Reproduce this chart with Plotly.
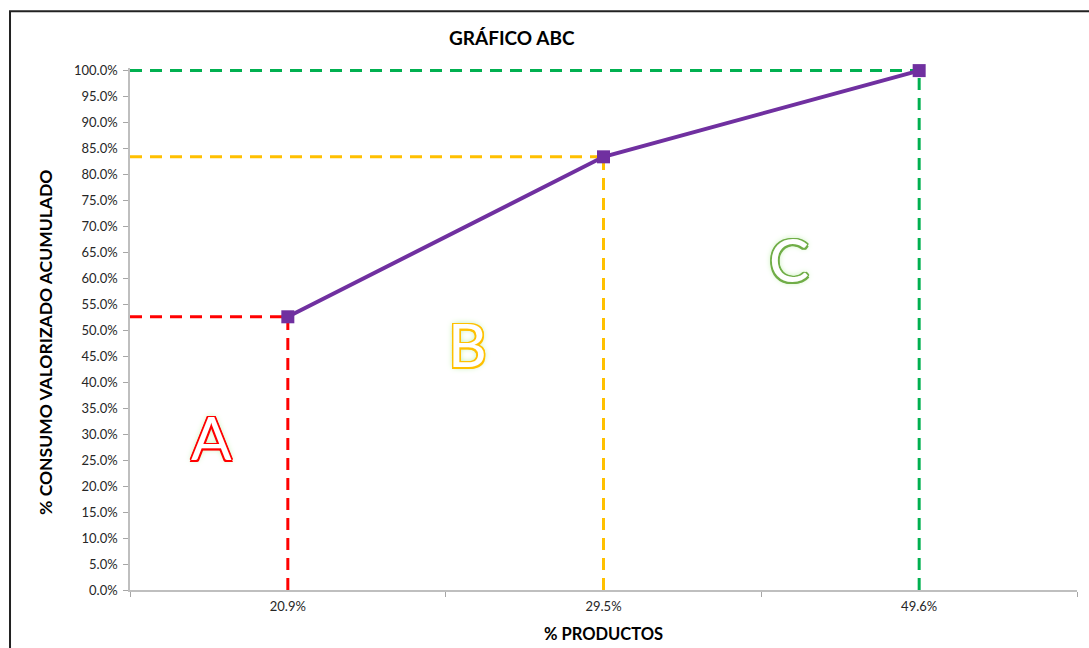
import plotly.graph_objects as go

# Cumulative ABC curve
categories = ["20.9%", "29.5%", "49.6%"]
cum_value = [0.526, 0.834, 1.0]
zone_colors = ["#FF0000", "#FFC000", "#00B050"]

# Zone letters and their placement (category index, y value)
zone_letters = ["A", "B", "C"]
letter_x = [-0.243, 0.568, 1.588]
letter_y = [0.295, 0.474, 0.638]
letter_colors = ["#FF0000", "#FFC000", "#70AD47"]

FONT = "Lato, 'Open Sans', sans-serif"
AXIS_GREY = "#BFBFBF"
Y_TOP = 1.005  # small headroom so the 100% guide is not clipped

fig = go.Figure()

fig.add_trace(go.Scatter(
    x=categories,
    y=cum_value,
    mode="lines+markers",
    line=dict(color="#7030A0", width=4),
    marker=dict(symbol="square", size=13, color="#7030A0"),
    cliponaxis=False,
    showlegend=False,
    hoverinfo="skip",
))

shapes = []
for i, (v, c) in enumerate(zip(cum_value, zone_colors)):
    dash = dict(color=c, width=3, dash="12px,8px")
    # horizontal guide from the value axis to the point
    shapes.append(dict(type="line", xref="x", yref="y", x0=-0.5, x1=i,
                       y0=v, y1=v, line=dash, layer="below"))
    # vertical guide from the point down to the category axis
    shapes.append(dict(type="line", xref="x", yref="y", x0=i, x1=i,
                       y0=0, y1=v, line=dash, layer="below"))

# outer chart frame
shapes.append(dict(type="rect", xref="paper", yref="paper",
                   x0=-0.1267, x1=1.2, y0=-0.3, y1=1.1085,
                   line=dict(color="#222222", width=2), layer="below"))

annotations = []
for t, x, y, c in zip(zone_letters, letter_x, letter_y, letter_colors):
    shadow = (f"-1.5px -1.5px 0 {c}, 1.5px -1.5px 0 {c}, -1.5px 1.5px 0 {c}, "
              f"1.5px 1.5px 0 {c}, 0 -1.5px 0 {c}, 0 1.5px 0 {c}, "
              f"-1.5px 0 0 {c}, 1.5px 0 0 {c}, 0 0 6px #A8E890")
    annotations.append(dict(
        x=x, y=y, xref="x", yref="y", text=t, showarrow=False,
        xanchor="center", yanchor="middle",
        font=dict(family=FONT, size=60, color="white", shadow=shadow),
    ))

PLOT_TOP, PLOT_BOTTOM = 68, 590
ph = PLOT_BOTTOM - PLOT_TOP

annotations.append(dict(
    x=(512 - 130) / 947, y=(PLOT_BOTTOM - 38) / ph, xref="paper", yref="paper",
    text="<b>GRÁFICO ABC</b>", showarrow=False, xanchor="center", yanchor="middle",
    font=dict(family=FONT, size=19, color="#000000"),
))
annotations.append(dict(
    x=-0.0898, y=(PLOT_BOTTOM - 342) / ph, xref="paper", yref="paper",
    text="<b>% CONSUMO VALORIZADO ACUMULADO</b>", showarrow=False,
    textangle=-90, xanchor="center", yanchor="middle",
    font=dict(family=FONT, size=17.5, color="#000000"),
))
annotations.append(dict(
    x=(603 - 130) / 947, y=(PLOT_BOTTOM - 634) / ph, xref="paper", yref="paper",
    text="<b>% PRODUCTOS</b>", showarrow=False, xanchor="center", yanchor="middle",
    font=dict(family=FONT, size=16.5, color="#000000"),
))

fig.update_layout(
    width=1089, height=648,
    margin=dict(l=130, r=12, t=PLOT_TOP, b=648 - PLOT_BOTTOM),
    paper_bgcolor="white", plot_bgcolor="white",
    font=dict(family=FONT, size=13, color="#404040"),
    shapes=shapes,
    annotations=annotations,
    xaxis=dict(
        type="category", categoryorder="array", categoryarray=categories,
        range=[-0.5, 2.5], tickson="boundaries",
        ticks="outside", ticklen=5, tickcolor="#A6A6A6",
        ticklabelstandoff=4,
        showline=True, linecolor=AXIS_GREY, linewidth=1.5,
        showgrid=False, zeroline=False,
        tickfont=dict(size=13, color="#262626"),
    ),
    yaxis=dict(
        range=[0, Y_TOP], tickvals=[k / 20 for k in range(21)], tickformat=".1%",
        ticks="outside", ticklen=5, tickcolor="#A6A6A6",
        ticklabelstandoff=3,
        showline=True, linecolor=AXIS_GREY, linewidth=1.5,
        showgrid=False, zeroline=False,
        tickfont=dict(size=13, color="#262626"),
    ),
)

fig.write_html("out.html")
